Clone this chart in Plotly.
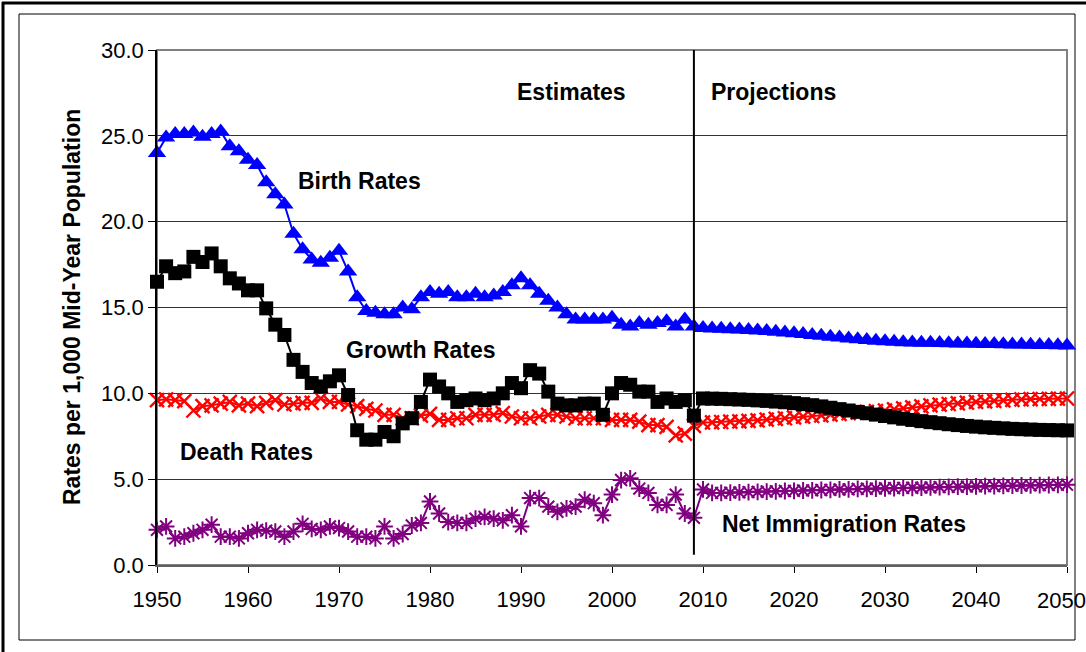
import plotly.graph_objects as go

# ---------------- data ----------------
years = list(range(1950, 2051))

birth_rates = [
    24.0, 24.9, 25.1, 25.1, 25.2, 24.95, 25.1, 25.25, 24.4, 24.1,
    23.6, 23.3, 22.3, 21.6, 21.0, 19.3, 18.4, 17.8, 17.6, 17.9,
    18.3, 17.1, 15.6, 14.8, 14.7, 14.6, 14.6, 15.0, 14.9, 15.6,
    15.9, 15.8, 15.9, 15.6, 15.6, 15.8, 15.6, 15.7, 15.9, 16.3,
    16.7, 16.3, 15.8, 15.4, 15.0, 14.6, 14.3, 14.3, 14.3, 14.3,
    14.4, 14.0, 13.9, 14.1, 14.0, 14.1, 14.2, 13.9, 14.3, 13.9,
    # projections 2010-2050
    13.8, 13.78, 13.76, 13.74, 13.72, 13.69, 13.66, 13.63, 13.59, 13.55,
    13.5, 13.45, 13.4, 13.35, 13.3, 13.25, 13.2, 13.15, 13.1, 13.06,
    13.03, 13.0, 12.98, 12.96, 12.95, 12.94, 12.93, 12.92, 12.91, 12.9,
    12.89, 12.88, 12.87, 12.86, 12.85, 12.84, 12.83, 12.82, 12.81, 12.8,
    12.79,
]

growth_rates = [
    16.5, 17.4, 17.0, 17.1, 17.95, 17.65, 18.15, 17.4, 16.7, 16.4,
    16.0, 16.0, 14.95, 14.0, 13.4, 11.95, 11.25, 10.6, 10.4, 10.7,
    11.05, 9.9, 7.85, 7.3, 7.3, 7.75, 7.5, 8.25, 8.55, 9.5,
    10.8, 10.4, 10.0, 9.5, 9.6, 9.7, 9.6, 9.7, 10.0, 10.6,
    10.3, 11.35, 11.15, 10.1, 9.4, 9.3, 9.3, 9.4, 9.4, 8.75,
    10.0, 10.6, 10.5, 10.1, 10.1, 9.5, 9.7, 9.5, 9.6, 8.7,
    # projections 2010-2050
    9.7, 9.69, 9.68, 9.66, 9.64, 9.62, 9.59, 9.56, 9.52, 9.48,
    9.43, 9.37, 9.31, 9.24, 9.16, 9.08, 9.0, 8.92, 8.84, 8.76,
    8.68, 8.6, 8.52, 8.45, 8.38, 8.32, 8.26, 8.2, 8.15, 8.1,
    8.06, 8.02, 7.99, 7.96, 7.93, 7.91, 7.89, 7.87, 7.86, 7.85,
    7.84,
]

death_rates = [
    9.6, 9.65, 9.6, 9.55, 9.0, 9.25, 9.3, 9.4, 9.5, 9.3,
    9.4, 9.25, 9.45, 9.6, 9.35, 9.4, 9.45, 9.45, 9.7, 9.5,
    9.5, 9.35, 9.25, 9.1, 9.0, 8.75, 8.75, 8.55, 8.55, 8.7,
    8.8, 8.45, 8.45, 8.55, 8.55, 8.75, 8.75, 8.75, 8.85, 8.65,
    8.55, 8.55, 8.65, 8.75, 8.75, 8.65, 8.55, 8.55, 8.55, 8.55,
    8.45, 8.45, 8.45, 8.35, 8.15, 8.15, 8.05, 7.55, 7.65, 8.1,
    # projections 2010-2050
    8.3, 8.31, 8.33, 8.35, 8.37, 8.4, 8.43, 8.47, 8.51, 8.55,
    8.6, 8.64, 8.68, 8.72, 8.76, 8.8, 8.84, 8.88, 8.92, 8.96,
    9.0, 9.06, 9.12, 9.18, 9.24, 9.3, 9.34, 9.38, 9.42, 9.46,
    9.5, 9.53, 9.56, 9.59, 9.62, 9.65, 9.66, 9.67, 9.68, 9.69,
    9.7,
]

immigration_rates = [
    2.05, 2.25, 1.55, 1.65, 1.85, 2.05, 2.35, 1.65, 1.65, 1.55,
    1.85, 2.05, 2.0, 1.95, 1.65, 1.95, 2.4, 2.1, 2.05, 2.25,
    2.15, 1.95, 1.65, 1.65, 1.55, 2.25, 1.55, 1.8, 2.3, 2.45,
    3.7, 3.0, 2.5, 2.45, 2.45, 2.7, 2.8, 2.7, 2.6, 2.9,
    2.25, 3.9, 3.9, 3.4, 3.1, 3.3, 3.4, 3.8, 3.6, 2.9,
    4.1, 4.95, 5.05, 4.45, 4.2, 3.5, 3.5, 4.1, 3.0, 2.75,
    # projections 2010-2050
    4.4, 4.2, 4.2, 4.22, 4.23, 4.25, 4.26, 4.28, 4.29, 4.31,
    4.32, 4.34, 4.35, 4.37, 4.38, 4.4, 4.41, 4.43, 4.44, 4.45,
    4.47, 4.48, 4.49, 4.5, 4.51, 4.52, 4.54, 4.55, 4.56, 4.57,
    4.58, 4.59, 4.6, 4.61, 4.62, 4.63, 4.64, 4.65, 4.66, 4.67,
    4.68,
]

x_ticks = [1950, 1960, 1970, 1980, 1990, 2000, 2010, 2020, 2030, 2040, 2050]
y_ticks = [0, 5, 10, 15, 20, 25, 30]
divider_year = 2009

# ---------------- layout geometry ----------------
W, H = 1086, 652
L, R, T, B = 157, 1067, 50, 565   # plot area in pixels
FONT = "Liberation Sans, Arial, sans-serif"


def px(xp):
    return (xp - L) / (R - L)


def py(yp):
    return (B - yp) / (B - T)


fig = go.Figure()

series = [
    (immigration_rates, "#800080", dict(symbol="asterisk", size=14,
                                        line=dict(color="#800080", width=2))),
    (death_rates, "#FF0000", dict(symbol="x-thin", size=14,
                                  line=dict(color="#FF0000", width=2.4))),
    (growth_rates, "#000000", dict(symbol="square", size=14, color="#000000",
                                   line=dict(width=0))),
    (birth_rates, "#0000FF", dict(symbol="triangle-up", size=16, color="#0000FF",
                                  line=dict(width=0))),
]
for vals, col, mk in series:
    fig.add_trace(go.Scatter(
        x=years[:len(vals)], y=vals, mode="lines+markers",
        line=dict(color=col, width=2),
        marker=mk, cliponaxis=False, showlegend=False, hoverinfo="skip"))

shapes = [
    # outer thick border (top and left edges visible)
    dict(type="line", xref="paper", yref="paper",
         x0=px(2), x1=px(W), y0=py(3), y1=py(3),
         line=dict(color="black", width=3), layer="below"),
    dict(type="line", xref="paper", yref="paper",
         x0=px(3), x1=px(3), y0=py(2), y1=py(H),
         line=dict(color="black", width=3), layer="below"),
    # inner thin border
    dict(type="rect", xref="paper", yref="paper",
         x0=px(19), x1=px(1075), y0=py(14), y1=py(640),
         line=dict(color="black", width=1), layer="below"),
    # plot area frame (gray)
    dict(type="rect", xref="paper", yref="paper",
         x0=0, x1=1, y0=0, y1=1,
         line=dict(color="#808080", width=2), layer="below"),
    # estimates / projections divider
    dict(type="line", xref="x", yref="y",
         x0=divider_year, x1=divider_year, y0=0.6, y1=30,
         line=dict(color="black", width=2)),
]

annotations = [
    dict(text="Estimates", x=1995.6, y=27.55),
    dict(text="Projections", x=2017.7, y=27.55),
    dict(text="Birth Rates", x=1972.3, y=22.37),
    dict(text="Growth Rates", x=1979.0, y=12.52),
    dict(text="Death Rates", x=1959.8, y=6.58),
    dict(text="Net Immigration Rates", x=2025.5, y=2.39),
]
annots = []
for a in annotations:
    annots.append(dict(text="<b>%s</b>" % a["text"], x=a["x"], y=a["y"],
                       xref="x", yref="y", showarrow=False,
                       font=dict(family=FONT, size=23, color="black"),
                       xanchor="center", yanchor="middle"))
annots.append(dict(text="<b>Rates per 1,000 Mid-Year Population</b>",
                   x=px(72), y=py(307), xref="paper", yref="paper",
                   textangle=-90, showarrow=False,
                   font=dict(family=FONT, size=23, color="black"),
                   xanchor="center", yanchor="middle"))
# last x tick label sits against the page edge, shifted left as in the original
last_tick = x_ticks[-1]
annots.append(dict(text=str(last_tick), x=px(1061), y=py(600),
                   xref="paper", yref="paper", showarrow=False,
                   font=dict(family=FONT, size=22, color="black"),
                   xanchor="center", yanchor="middle"))

fig.update_layout(
    width=W, height=H, autosize=False,
    margin=dict(l=L, r=W - R, t=T, b=H - B, pad=0, autoexpand=False),
    paper_bgcolor="white", plot_bgcolor="white",
    font=dict(family=FONT, size=22, color="black"),
    shapes=shapes, annotations=annots,
    xaxis=dict(range=[1950, 2050], tickvals=x_ticks,
               ticktext=[str(v) for v in x_ticks[:-1]] + [""],
               showgrid=False, zeroline=False,
               showline=True, linecolor="#606060", linewidth=2,
               ticks="outside", ticklen=6, tickcolor="black",
               ticklabelstandoff=8,
               tickfont=dict(family=FONT, size=22)),
    yaxis=dict(range=[0, 30], tickvals=y_ticks,
               ticktext=["%.1f" % v for v in y_ticks],
               showgrid=True, gridcolor="#333333", gridwidth=1,
               zeroline=False,
               showline=True, linecolor="black", linewidth=1.5,
               ticks="outside", ticklen=7, tickcolor="black",
               tickfont=dict(family=FONT, size=22)),
)

fig.write_html("out.html",
               config={"displayModeBar": False, "responsive": False})

# remove the default page margin so the figure sits at the window origin
with open("out.html", "r", encoding="utf-8") as f:
    html = f.read()
html = html.replace("<head>",
                    "<head><style>html,body{margin:0;padding:0;overflow:hidden;}</style>",
                    1)
with open("out.html", "w", encoding="utf-8") as f:
    f.write(html)
